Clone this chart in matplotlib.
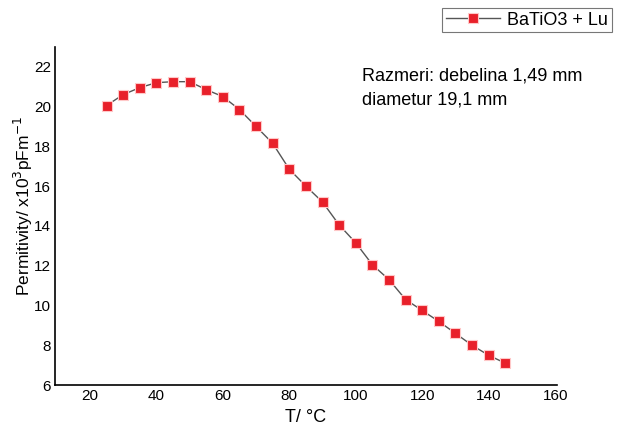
import matplotlib.pyplot as plt

plt.rcParams['font.family'] = ['Liberation Sans', 'DejaVu Sans']

# temperature (C) and permitivity (x10^3 pF/m)
temps = [25, 30, 35, 40, 45, 50, 55, 60, 65, 70, 75, 80, 85, 90, 95,
         100, 105, 110, 115, 120, 125, 130, 135, 140, 145]
perm = [20.05, 20.6, 20.95, 21.2, 21.25, 21.25, 20.85, 20.5, 19.85, 19.0,
        18.15, 16.85, 16.0, 15.2, 14.05, 13.15, 12.05, 11.3, 10.3, 9.75,
        9.2, 8.6, 8.0, 7.5, 7.1]
xticks = [20, 40, 60, 80, 100, 120, 140, 160]
yticks = [6, 8, 10, 12, 14, 16, 18, 20, 22]

fig = plt.figure(figsize=(6.18, 4.26), dpi=100)
ax = fig.add_axes([0.089, 0.096, 0.812, 0.794])

ax.plot(temps, perm, color='#555555', lw=1, marker='s', ms=7,
        mfc='#e8202a', mec='#ffc8c8', mew=0.8, label='BaTiO3 + Lu')

ax.set_xlim(9.5, 160.5)
ax.set_ylim(6, 23)
ax.set_xticks(xticks)
ax.set_yticks(yticks)
ax.tick_params(length=0, labelsize=11, pad=3)
for s in ['top', 'right']:
    ax.spines[s].set_visible(False)
for s in ['left', 'bottom']:
    ax.spines[s].set_linewidth(1.2)

ax.set_xlabel('T/ °C', fontsize=13, labelpad=4)
ax.set_ylabel('Permitivity/ x10$^3$pFm$^{-1}$', fontsize=12.5)
ax.yaxis.set_label_coords(-0.04, 0.53)

ax.text(0.612, 0.94, 'Razmeri: debelina 1,49 mm\ndiametur 19,1 mm',
        transform=ax.transAxes, fontsize=13, va='top', linespacing=1.55)

leg = fig.legend(loc='upper right', bbox_to_anchor=(0.990, 0.981),
                 borderaxespad=0, fontsize=13, fancybox=False,
                 edgecolor='#555555', handlelength=3.0, borderpad=0.2,
                 handletextpad=0.4)
leg.get_frame().set_linewidth(0.8)

fig.savefig('out.png', dpi=100)
